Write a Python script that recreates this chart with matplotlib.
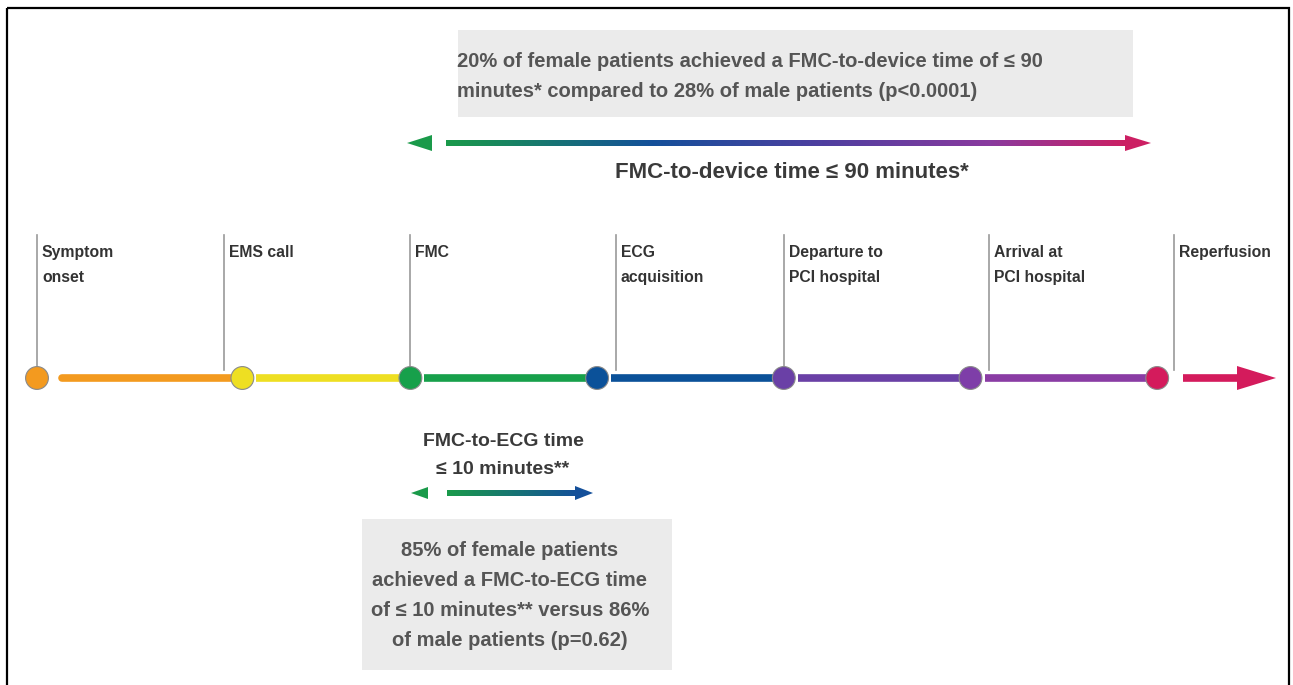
import matplotlib.pyplot as plt
import matplotlib.patches as patches
from matplotlib.colors import LinearSegmentedColormap
import numpy as np

plt.rcParams['font.family'] = ['Liberation Sans', 'DejaVu Sans']

# =========================
# Data
# =========================
event_labels = [['Symptom', 'onset'], ['EMS call'], ['FMC'], ['ECG', 'acquisition'],
                ['Departure to', 'PCI hospital'], ['Arrival at', 'PCI hospital'],
                ['Reperfusion']]
event_pos = [0, 1.1, 2, 3, 4, 5, 6]          # position on the timeline
line_pos = [0, 1.0, 2, 3.1, 4, 5.1, 6.09]    # grey marker lines
event_colors = ['#F39A1F', '#EEDF22', '#17A04B', '#0B5199',
                '#6A40A6', '#7E3EA8', '#D41B5C']
seg_colors = ['#F39A1F', '#EEDF22', '#17A04B', '#0B5199', '#6A40A6', '#8A3CA4']

top_note = ['20% of female patients achieved a FMC-to-device time of \u2264 90',
            'minutes* compared to 28% of male patients (p<0.0001)']
top_label = 'FMC-to-device time \u2264 90 minutes*'
ecg_label = ['FMC-to-ECG time', '\u2264 10 minutes**']
bottom_note = ['85% of female patients', 'achieved a FMC-to-ECG time',
               'of \u2264 10 minutes** versus 86%', 'of male patients (p=0.62)']

# =========================
# Layout (pixel coordinates)
# =========================
W, H = 1293, 685
X0, STEP = 37, 186.7
Y_LINE = 378


def px(t):
    return X0 + t * STEP


fig = plt.figure(figsize=(W / 100, H / 100), dpi=100)
ax = fig.add_axes([0, 0, 1, 1])
ax.axis('off')

# frame
ax.add_patch(patches.Rectangle((7, 8), 1282, 700, linewidth=1.6,
                               edgecolor='black', facecolor='none'))


def lines(x, y0, dy, rows, ha, **kw):
    for k, r in enumerate(rows):
        ax.text(x, y0 + k * dy, r, ha=ha, va='center', **kw)


def grad_bar(x0, x1, yc, h, cmap):
    g = np.linspace(0, 1, 256).reshape(1, -1)
    ax.imshow(g, extent=(x0, x1, yc + h / 2, yc - h / 2), cmap=cmap,
              aspect='auto', interpolation='bilinear', zorder=2)


def head(xb, xt, yc, hh, color):
    ax.fill([xb, xt, xb], [yc - hh, yc, yc + hh], color=color, lw=0, zorder=3)


# top note box
ax.add_patch(patches.Rectangle((458, 30), 675, 87, facecolor='#EBEBEB',
                               edgecolor='none'))
lines(457, 61, 30, top_note, 'left', fontsize=14.5, fontweight='bold',
      color='#555555')

# top gradient arrow
cmap_top = LinearSegmentedColormap.from_list(
    'top', [(0, '#1A9A4A'), (0.3, '#14509A'), (0.55, '#4E3FA0'),
            (0.8, '#8A3A9E'), (1, '#CC1F63')])
grad_bar(446, 1128, 143, 6, cmap_top)
head(432, 407, 143, 8, '#1A9A4A')
head(1125, 1151, 143, 8, '#CC1F63')
ax.text(792, 172, top_label, fontsize=16, fontweight='bold', color='#3A3A3A',
        ha='center', va='center')

# vertical marker lines and labels
for t, lab in zip(line_pos, event_labels):
    x = px(t)
    ax.plot([x, x], [235, 370], color='#999999', lw=1.2, zorder=1)
    lines(x + 5, 252, 25, lab, 'left', fontsize=11.3, fontweight='bold',
          color='#333333')

# timeline segments
for i, c in enumerate(seg_colors):
    xa = px(event_pos[i]) + (25 if i == 0 else 14)
    xb = px(event_pos[i + 1]) - 8
    ax.plot([xa, xb], [Y_LINE, Y_LINE], color=c, lw=5.5,
            solid_capstyle='round' if i == 0 else 'butt', zorder=2)
xr = px(event_pos[-1]) + 26
ax.plot([xr, 1240], [Y_LINE, Y_LINE], color='#D41B5C', lw=5.5,
        solid_capstyle='butt', zorder=2)
head(1237, 1276, Y_LINE, 12, '#D41B5C')

# event circles
ax.scatter([px(t) for t in event_pos], [Y_LINE] * len(event_pos), s=270,
           c=event_colors, edgecolors='#8A8A8A', linewidths=0.8, zorder=4)

# FMC-to-ECG arrow
lines(503, 441, 28, ecg_label, 'center', fontsize=14, fontweight='bold',
      color='#3A3A3A')
cmap_ecg = LinearSegmentedColormap.from_list('ecg', ['#1A9A4A', '#14509A'])
grad_bar(447, 577, 493, 6, cmap_ecg)
head(428, 411, 493, 6, '#1A9A4A')
head(575, 593, 493, 7, '#14509A')

# bottom note box
ax.add_patch(patches.Rectangle((362, 519), 310, 151, facecolor='#EBEBEB',
                               edgecolor='none'))
lines(510, 551, 30, bottom_note, 'center', fontsize=14.5, fontweight='bold',
      color='#555555')

ax.set_xlim(0, W)
ax.set_ylim(H, 0)

fig.savefig('out.png', dpi=100, facecolor='white')
